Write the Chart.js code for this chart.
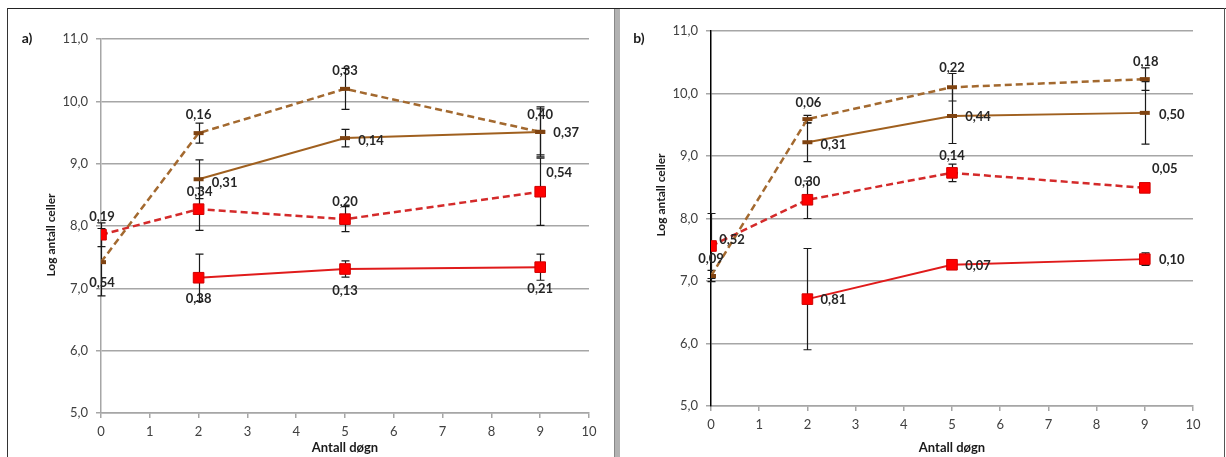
<!DOCTYPE html>
<html lang="no">
<head>
<meta charset="UTF-8">
<title>Log antall celler</title>
<script src="https://cdn.jsdelivr.net/npm/chart.js"></script>
<style>
    body { margin: 0; background: #fff; width: 1226px; height: 457px; overflow: hidden; position: relative; }
    #frameTop { position: absolute; left: 7px; top: 8px; width: 1219px; height: 1px; background: #222; }
    #frameLeft { position: absolute; left: 7px; top: 8px; width: 1px; height: 449px; background: #333; }
    #frameRight { position: absolute; left: 1224px; top: 8px; width: 1px; height: 449px; background: #555; }
    #sep { position: absolute; left: 614px; top: 9px; width: 5px; height: 448px; background: #b2b2b2; border-left: 1px solid #888; }
    canvas { position: absolute; }
    #chartA { left: 8px; top: 9px; }
    #chartB { left: 620px; top: 9px; }
</style>
</head>
<body>
<div id="frameTop"></div>
<div id="frameLeft"></div>
<div id="frameRight"></div>
<div id="sep"></div>
<canvas id="chartA" width="606" height="448"></canvas>
<canvas id="chartB" width="604" height="448"></canvas>

<script>
    // x-verdier (døgn)
    const days = [0, 2, 5, 9];
    const daysLate = [2, 5, 9];
    const yTicks = [5, 6, 7, 8, 9, 10, 11];

    // a) gjennomsnitt og standardavvik
    const aBrownDash = [7.42, 9.49, 10.20, 9.51];
    const aBrownDashSd = [0.54, 0.16, 0.33, 0.40];
    const aBrownSolid = [8.75, 9.41, 9.51];
    const aBrownSolidSd = [0.31, 0.14, 0.37];
    const aRedDash = [7.86, 8.27, 8.11, 8.55];
    const aRedDashSd = [0.19, 0.34, 0.20, 0.54];
    const aRedSolid = [7.17, 7.31, 7.34];
    const aRedSolidSd = [0.38, 0.13, 0.21];

    // b)
    const bBrownDash = [7.08, 9.59, 10.10, 10.23];
    const bBrownDashSd = [0.09, 0.06, 0.22, 0.18];
    const bBrownSolid = [9.22, 9.64, 9.69];
    const bBrownSolidSd = [0.31, 0.44, 0.50];
    const bRedDash = [7.56, 8.30, 8.73, 8.49];
    const bRedDashSd = [0.52, 0.30, 0.14, 0.05];
    const bRedSolid = [6.71, 7.26, 7.35];
    const bRedSolidSd = [0.81, 0.07, 0.10];

    const FONT = 'Lato, "Open Sans", sans-serif';

    const styles = {
        redSolid:   { borderColor: '#e01b1b', borderWidth: 2, borderDash: [], pointStyle: 'rect', pointRadius: 7.5, pointBackgroundColor: '#ff0000', pointBorderColor: '#d00000', pointBorderWidth: 1 },
        redDash:    { borderColor: '#d42a2a', borderWidth: 2.5, borderDash: [7, 4], pointStyle: 'rect', pointRadius: 7.5, pointBackgroundColor: '#ff0000', pointBorderColor: '#d00000', pointBorderWidth: 1 },
        brownSolid: { borderColor: '#a0601f', borderWidth: 2, borderDash: [], pointStyle: 'line', pointRadius: 5, pointBorderColor: '#7f4311', pointBorderWidth: 4 },
        brownDash:  { borderColor: '#a3692f', borderWidth: 2.5, borderDash: [7, 4], pointStyle: 'line', pointRadius: 5, pointBorderColor: '#7f4311', pointBorderWidth: 4 }
    };

    function series(xs, ys, sd, style, labelOffsets) {
        return Object.assign({
            data: xs.map((x, i) => ({ x: x, y: ys[i] })),
            sd: sd,
            labelOffsets: labelOffsets,
            showLine: true,
            fill: false,
            tension: 0
        }, styles[style]);
    }

    const panelA = {
        letter: 'a)',
        yTitleAt: [43, 226],
        padRight: 25, padTop: 30, yWidth: 93, xHeight: 44,
        yBorder: '#a6a6a6',
        datasets: [
            series(daysLate, aRedSolid, aRedSolidSd, 'redSolid', [[0, 21], [0, 22], [0, 22]]),
            series(days, aRedDash, aRedDashSd, 'redDash', [[1, -18], [1, -17], [0, -17], [19, -19]]),
            series(daysLate, aBrownSolid, aBrownSolidSd, 'brownSolid', [[26, 4], [26, 3], [26, 1]]),
            series(days, aBrownDash, aBrownDashSd, 'brownDash', [[1, 21], [0, -18], [0, -18], [0, -17]])
        ]
    };

    const panelB = {
        letter: 'b)',
        yTitleAt: [41, 186],
        padRight: 31, padTop: 22, yWidth: 91, xHeight: 51,
        yBorder: '#000000',
        datasets: [
            series(daysLate, bRedSolid, bRedSolidSd, 'redSolid', [[26, 1], [26, 1], [27, 1]]),
            series(days, bRedDash, bRedDashSd, 'redDash', [[21, -6], [0, -18], [0, -17], [20, -19]]),
            series(daysLate, bBrownSolid, bBrownSolidSd, 'brownSolid', [[26, 3], [26, 1], [27, 2]]),
            series(days, bBrownDash, bBrownDashSd, 'brownDash', [[0, -17], [1, -16], [0, -19], [1, -17]])
        ]
    };

    // feilstolper bak markorene
    const errorBars = {
        id: 'errorBars',
        beforeDatasetsDraw(chart) {
            const { ctx, scales: { x, y } } = chart;
            ctx.save();
            ctx.strokeStyle = '#1a1a1a';
            ctx.lineWidth = 1.2;
            chart.data.datasets.forEach(ds => {
                ds.data.forEach((p, i) => {
                    const px = Math.round(x.getPixelForValue(p.x)) + 0.5;
                    const top = y.getPixelForValue(p.y + ds.sd[i]);
                    const bot = y.getPixelForValue(p.y - ds.sd[i]);
                    ctx.beginPath();
                    ctx.moveTo(px, top); ctx.lineTo(px, bot);
                    ctx.moveTo(px - 4, top); ctx.lineTo(px + 4, top);
                    ctx.moveTo(px - 4, bot); ctx.lineTo(px + 4, bot);
                    ctx.stroke();
                });
            });
            ctx.restore();
        }
    };

    // etiketter med standardavvik, y-aksetittel og panelbokstav
    const extras = {
        id: 'extras',
        afterDatasetsDraw(chart) {
            const { ctx, scales: { x, y } } = chart;
            const panel = chart.config.options.panel;
            ctx.save();
            ctx.fillStyle = '#262626';
            ctx.font = 'bold 13px ' + FONT;
            ctx.textAlign = 'center';
            ctx.textBaseline = 'middle';
            chart.data.datasets.forEach(ds => {
                ds.data.forEach((p, i) => {
                    const off = ds.labelOffsets[i];
                    const txt = ds.sd[i].toFixed(2).replace('.', ',');
                    ctx.fillText(txt, x.getPixelForValue(p.x) + off[0], y.getPixelForValue(p.y) + off[1]);
                });
            });

            ctx.font = 'bold 14px ' + FONT;
            ctx.fillStyle = '#1a1a1a';
            ctx.fillText(panel.letter, 19, 29);

            ctx.translate(panel.yTitleAt[0], panel.yTitleAt[1]);
            ctx.rotate(-Math.PI / 2);
            ctx.font = 'bold 12px ' + FONT;
            ctx.fillText('Log antall celler', 0, 0);
            ctx.restore();
        }
    };

    function makeChart(id, panel) {
        return new Chart(document.getElementById(id), {
            type: 'scatter',
            data: { datasets: panel.datasets },
            plugins: [errorBars, extras],
            options: {
                panel: panel,
                responsive: false,
                animation: false,
                events: [],
                layout: { padding: { left: 0, right: panel.padRight, top: panel.padTop, bottom: 0 } },
                plugins: { legend: { display: false }, tooltip: { enabled: false } },
                scales: {
                    x: {
                        type: 'linear', min: 0, max: 10,
                        afterFit: s => { s.height = panel.xHeight; },
                        ticks: { stepSize: 1, padding: 6, color: '#404040', font: { family: FONT, size: 13 } },
                        grid: { drawOnChartArea: false, drawTicks: true, tickLength: 5, color: '#a6a6a6', lineWidth: 1.5 },
                        border: { color: '#a6a6a6', width: 1.5 },
                        title: { display: true, text: 'Antall døgn', color: '#1a1a1a', font: { family: FONT, size: 13, weight: 'bold' }, padding: { top: 0, bottom: 1 } }
                    },
                    y: {
                        type: 'linear', min: 5, max: 11,
                        afterFit: s => { s.width = panel.yWidth; },
                        afterBuildTicks: s => { s.ticks = yTicks.map(v => ({ value: v })); },
                        ticks: { padding: 8, color: '#404040', font: { family: FONT, size: 13 },
                                 callback: v => v.toFixed(1).replace('.', ',') },
                        grid: { color: '#a6a6a6', lineWidth: 1.5, tickLength: 5 },
                        border: { color: panel.yBorder, width: 1.5 }
                    }
                }
            }
        });
    }

    makeChart('chartA', panelA);
    makeChart('chartB', panelB);
</script>
</body>
</html>
